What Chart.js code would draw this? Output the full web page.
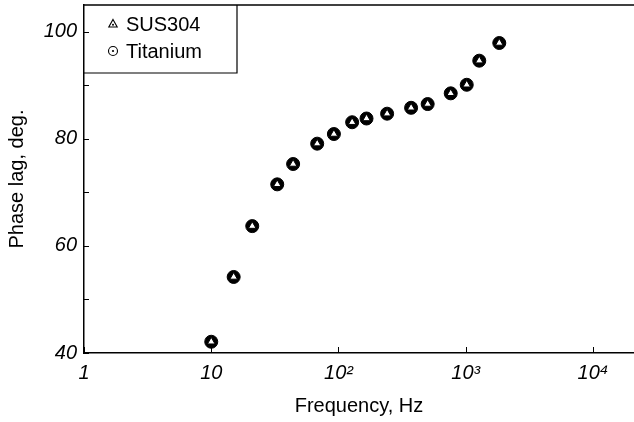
<!DOCTYPE html>
<html><head><meta charset="utf-8">
<script src="https://cdn.jsdelivr.net/npm/chart.js@4.4.1/dist/chart.umd.min.js"></script>
<style>html,body{margin:0;padding:0;background:#fff}#wrap{width:634px;height:422px}</style>
</head><body><div id="wrap"><canvas id="c" width="634" height="422"></canvas></div>
<script>
// ---- data ----
const frequencies   = [10, 15, 21, 33, 44, 68, 92, 128, 166, 241, 372, 502, 762, 1018, 1277, 1835];
const sus304Phase   = [42.1, 54.2, 63.7, 71.5, 75.3, 79.1, 80.9, 83.1, 83.8, 84.7, 85.8, 86.5, 88.5, 90.1, 94.6, 97.9];
const titaniumPhase = [42.1, 54.2, 63.7, 71.5, 75.3, 79.1, 80.9, 83.1, 83.8, 84.7, 85.8, 86.5, 88.5, 90.1, 94.6, 97.9];
const seriesNames   = ['SUS304', 'Titanium'];
const xTickValues   = [1, 10, 100, 1000, 10000];
const xTickLabels   = ['1', '10', '10²', '10³', '10⁴'];
const yTickValues   = [40, 50, 60, 70, 80, 90, 100];
const yLabeledTicks = [40, 60, 80, 100];
const xTitle = 'Frequency, Hz';
const yTitle = 'Phase lag, deg.';

const FONT = '"Liberation Sans", Arial, Helvetica, sans-serif';

const framePlugin = {
  id: 'frame',
  afterDraw(chart) {
    const ctx = chart.ctx, a = chart.chartArea;
    const xs = chart.scales.x, ys = chart.scales.y;
    ctx.save();
    ctx.strokeStyle = '#000';
    ctx.lineWidth = 1.5;
    // top frame line
    ctx.beginPath(); ctx.moveTo(a.left, a.top); ctx.lineTo(chart.width, a.top); ctx.stroke();
    ctx.lineWidth = 1;
    // inward y ticks
    yTickValues.forEach(v => {
      const py = Math.round(ys.getPixelForValue(v)) + 0.5;
      ctx.beginPath(); ctx.moveTo(a.left, py); ctx.lineTo(a.left + 5, py); ctx.stroke();
    });
    // inward x ticks
    xTickValues.forEach(v => {
      const px = Math.round(xs.getPixelForValue(v)) + 0.5;
      ctx.beginPath(); ctx.moveTo(px, a.bottom); ctx.lineTo(px, a.bottom - 6); ctx.stroke();
    });
    // legend box
    const bx = a.left, by = a.top, bw = 153, bh = 68;
    ctx.lineWidth = 1.2;
    ctx.beginPath(); ctx.moveTo(bx + bw, by); ctx.lineTo(bx + bw, by + bh); ctx.lineTo(bx, by + bh); ctx.stroke();
    ctx.font = '20px ' + FONT;
    ctx.fillStyle = '#000';
    ctx.textBaseline = 'middle';
    const rows = [by + 19, by + 46];
    chart.data.datasets.forEach((ds, i) => {
      const my = rows[i], mx = bx + 29;
      ctx.lineWidth = 1.1;
      if (i === 0) {
        ctx.beginPath();
        ctx.moveTo(mx, my - 4.5); ctx.lineTo(mx + 4.2, my + 3); ctx.lineTo(mx - 4.2, my + 3); ctx.closePath();
        ctx.stroke();
        ctx.beginPath(); ctx.arc(mx, my + 0.8, 1, 0, Math.PI * 2); ctx.fill();
      } else {
        ctx.beginPath(); ctx.arc(mx, my, 4.5, 0, Math.PI * 2); ctx.stroke();
        ctx.beginPath(); ctx.arc(mx, my, 1.1, 0, Math.PI * 2); ctx.fill();
      }
      ctx.fillText(ds.label, bx + 42, my + 1);
    });
    ctx.restore();
  }
};

const toPts = (ys) => frequencies.map((f, i) => ({ x: f, y: ys[i] }));

new Chart(document.getElementById('c'), {
  type: 'scatter',
  data: {
    datasets: [
      { label: seriesNames[0], data: toPts(sus304Phase), pointStyle: 'triangle', pointRadius: 4.4,
        backgroundColor: '#fff', borderColor: '#000', pointBorderWidth: 1, pointHoverRadius: 4.4 },
      { label: seriesNames[1], data: toPts(titaniumPhase), pointStyle: 'circle', pointRadius: 6.5,
        backgroundColor: '#000', borderColor: '#000', pointBorderWidth: 1, pointHoverRadius: 6.5 }
    ]
  },
  options: {
    responsive: false,
    animation: false,
    events: [],
    layout: { autoPadding: false, padding: { left: 0, right: 0, top: 5, bottom: 0 } },
    plugins: { legend: { display: false }, tooltip: { enabled: false } },
    scales: {
      x: {
        type: 'logarithmic', min: 1, max: 21000,
        grid: { display: false, drawTicks: false },
        border: { display: true, color: '#000', width: 1.5 },
        afterBuildTicks: (s) => { s.ticks = xTickValues.map(v => ({ value: v, major: true })); },
        afterFit: (s) => { s.height = 69; s.paddingLeft = 0; s.paddingRight = 0; },
        ticks: {
          autoSkip: false, maxRotation: 0, padding: 8, color: '#000',
          font: { family: FONT, size: 20, style: 'italic' },
          callback: (v) => { const i = xTickValues.indexOf(v); return i >= 0 ? xTickLabels[i] : ''; }
        },
        title: { display: true, text: xTitle, color: '#000', font: { family: FONT, size: 20 }, padding: { top: 0, bottom: 4 } }
      },
      y: {
        min: 40, max: 105,
        grid: { display: false, drawTicks: false },
        border: { display: true, color: '#000', width: 1.5 },
        afterBuildTicks: (s) => { s.ticks = yTickValues.map(v => ({ value: v })); },
        afterFit: (s) => { s.width = 84; s.paddingTop = 0; s.paddingBottom = 0; },
        ticks: {
          autoSkip: false, padding: 7, color: '#000',
          font: { family: FONT, size: 20, style: 'italic' },
          callback: (v) => yLabeledTicks.includes(v) ? String(v) : ''
        },
        title: { display: true, text: yTitle, color: '#000', font: { family: FONT, size: 20 }, padding: { top: 5, bottom: 0 } }
      }
    }
  },
  plugins: [framePlugin]
});
</script>
</body></html>
